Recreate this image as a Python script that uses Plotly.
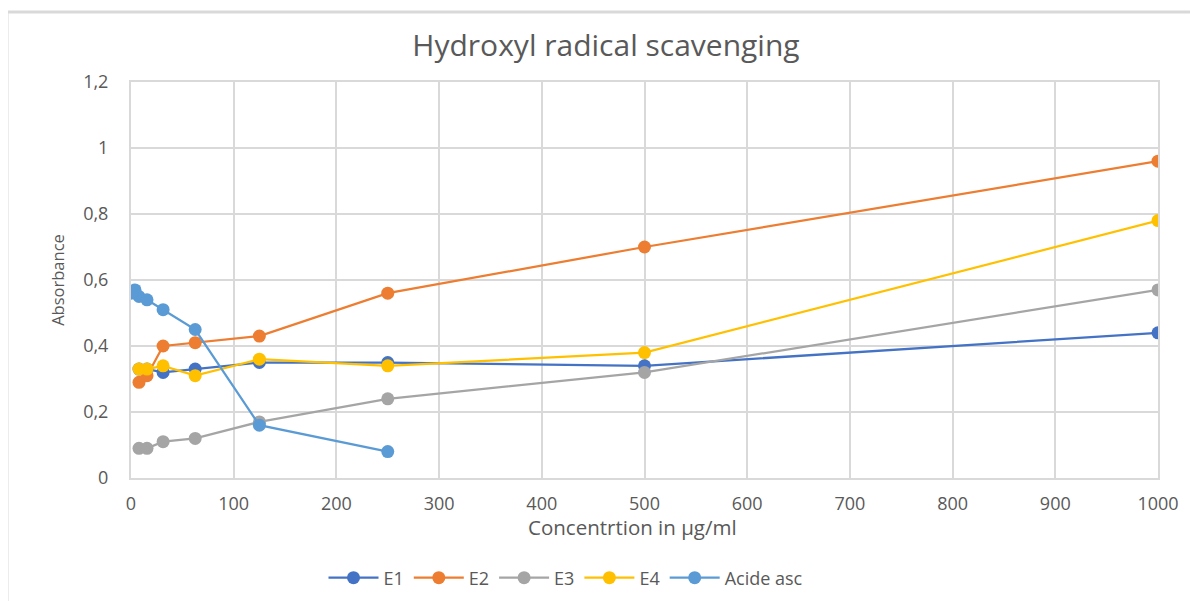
import plotly.graph_objects as go

conc = [7.8, 15.6, 31.25, 62.5, 125, 250, 500, 1000]
e1 = [0.33, 0.33, 0.32, 0.33, 0.35, 0.35, 0.34, 0.44]
e2 = [0.29, 0.31, 0.40, 0.41, 0.43, 0.56, 0.70, 0.96]
e3 = [0.09, 0.09, 0.11, 0.12, 0.17, 0.24, 0.32, 0.57]
e4 = [0.33, 0.33, 0.34, 0.31, 0.36, 0.34, 0.38, 0.78]
conc_asc = [0, 3.9, 7.8, 15.6, 31.25, 62.5, 125, 250]
acide_asc = [0.56, 0.57, 0.55, 0.54, 0.51, 0.45, 0.16, 0.08]

y_ticks = [0, 0.2, 0.4, 0.6, 0.8, 1.0, 1.2]
y_tick_labels = ["0", "0,2", "0,4", "0,6", "0,8", "1", "1,2"]
x_ticks = [0, 100, 200, 300, 400, 500, 600, 700, 800, 900, 1000]

series = [
    ("E1", conc, e1, "#4472C4"),
    ("E2", conc, e2, "#ED7D31"),
    ("E3", conc, e3, "#A5A5A5"),
    ("E4", conc, e4, "#FFC000"),
    ("Acide asc", conc_asc, acide_asc, "#5B9BD5"),
]

fig = go.Figure()
for name, xs, ys, col in series:
    fig.add_trace(go.Scatter(
        x=xs, y=ys, name=name, mode="lines+markers",
        line=dict(color=col, width=2.25),
        marker=dict(color=col, size=13),
    ))

font_main = "Open Sans, sans-serif"
grid = "#d9d9d9"
txt = "#595959"

L, R, T, B = 123, 48, 74, 131
W, H = 1198, 601
plot_w = W - L - R
plot_h = H - T - B

# screen pixel -> paper coords (page has an 8px offset)
px_to_x = lambda p: (p - 8 - L) / plot_w
py_to_y = lambda p: (T + plot_h - (p - 8)) / plot_h

fig.update_layout(
    width=W, height=H,
    paper_bgcolor="white", plot_bgcolor="white",
    margin=dict(l=L, r=R, t=T, b=B),
    title=dict(text="Hydroxyl radical scavenging", x=(606 - 8) / W, xanchor="center",
               y=1 - 37 / H, yanchor="middle",
               font=dict(family=font_main, size=30, color=txt)),
    font=dict(family=font_main, color=txt, size=16),
    legend=dict(orientation="h", x=px_to_x(566), xanchor="center", y=py_to_y(578),
                yanchor="middle", font=dict(size=18, color=txt), itemwidth=50),
    showlegend=True,
    annotations=[dict(text="Concentrtion in µg/ml", xref="paper", yref="paper",
                      x=px_to_x(632), y=py_to_y(527), xanchor="center", yanchor="middle",
                      showarrow=False, font=dict(family=font_main, size=20.5, color=txt))],
)
fig.update_xaxes(
    range=[0, 1000], tickvals=x_ticks, showgrid=True, gridcolor=grid, gridwidth=2,
    showline=True, linecolor=grid, linewidth=2, mirror=True, zeroline=False,
    ticks="", ticklabelstandoff=8, tickfont=dict(size=18, color=txt),
)
fig.update_yaxes(
    range=[0, 1.2], tickvals=y_ticks, ticktext=y_tick_labels, showgrid=True,
    gridcolor=grid, gridwidth=2, showline=True, linecolor=grid, linewidth=2,
    mirror=True, zeroline=False, ticks="", ticklabelstandoff=17,
    tickfont=dict(size=18, color=txt),
    title=dict(text="Absorbance", font=dict(size=16.5, color=txt), standoff=14),
)

# outer chart frame (left and top edges visible)
fig.add_shape(type="line", xref="paper", yref="paper",
              x0=px_to_x(7), x1=px_to_x(7), y0=py_to_y(12), y1=py_to_y(620),
              line=dict(color=grid, width=3))
fig.add_shape(type="line", xref="paper", yref="paper",
              x0=px_to_x(7), x1=px_to_x(1220), y0=py_to_y(12), y1=py_to_y(12),
              line=dict(color=grid, width=3))

fig.write_html("out.html")
